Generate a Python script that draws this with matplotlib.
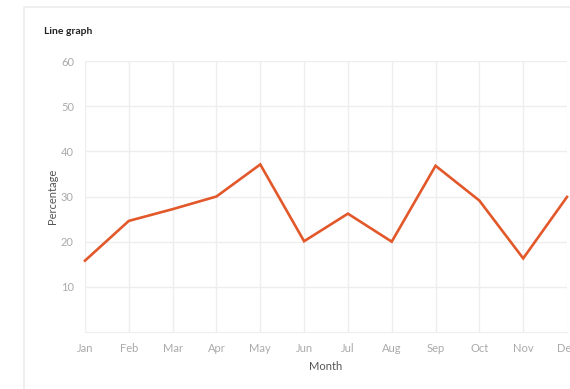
import matplotlib
matplotlib.use("Agg")
import matplotlib.pyplot as plt
from matplotlib.patches import Rectangle

# Monthly percentages
months = ["Jan", "Feb", "Mar", "Apr", "May", "Jun",
          "Jul", "Aug", "Sep", "Oct", "Nov", "Dec"]
percentage = [15.8, 24.6, 27.2, 30.0, 37.1, 20.1, 26.2, 20.0, 36.8, 29.1, 16.3, 29.9]
y_ticks = [10, 20, 30, 40, 50, 60]

plt.rcParams["font.family"] = ["Lato", "DejaVu Sans"]

fig = plt.figure(figsize=(5.7, 3.89), dpi=100)
fig.patch.set_facecolor("white")

# card outline behind the chart
card = Rectangle((24 / 570, -0.05), 1.0, 1 - 7 / 389 + 0.05,
                 transform=fig.transFigure, facecolor="white",
                 edgecolor="#ececec", linewidth=1.2, zorder=-10)
fig.add_artist(card)

ax = fig.add_axes([85 / 570, 1 - 332 / 389, (567 - 85) / 570, (332 - 61) / 389])
ax.set_facecolor("none")
ax.set_zorder(1)

x = list(range(len(months)))
ax.plot(x, percentage, color="#e2582b", linewidth=1.9, solid_joinstyle="miter",
        clip_on=False, zorder=3)

ax.set_xlim(0, len(months) - 1)
ax.set_ylim(0, 60)
ax.set_xticks(x)
ax.set_xticklabels(months)
ax.set_yticks(y_ticks)

ax.grid(True, color="#eeeeee", linewidth=1.0)
ax.set_axisbelow(True)
for side in ["top", "right", "left"]:
    ax.spines[side].set_visible(False)
ax.spines["bottom"].set_color("#eeeeee")

ax.tick_params(axis="both", length=0, colors="#aaaaaa", labelsize=8)
ax.tick_params(axis="x", pad=8)
ax.tick_params(axis="y", pad=8)

ax.set_ylabel("Percentage", fontsize=8, color="#555555", labelpad=2)
ax.set_xlabel("Month", fontsize=8, color="#555555", labelpad=5)

fig.text(44 / 570, 1 - 32 / 389, "Line graph", fontsize=7.5, fontweight="bold",
         color="#222222", va="center", ha="left")

fig.savefig("out.png", dpi=100)
